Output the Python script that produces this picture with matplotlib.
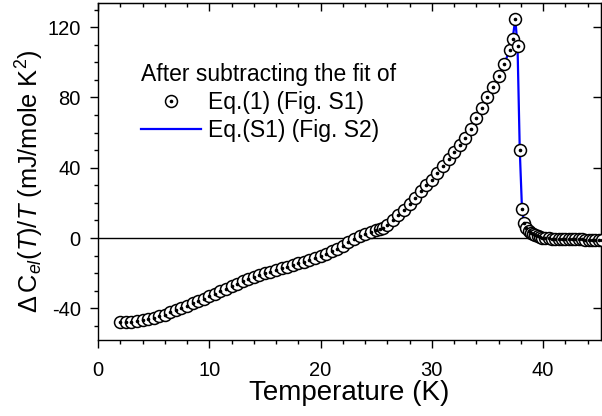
import matplotlib
matplotlib.use('Agg')
import matplotlib.pyplot as plt

plt.rcParams['font.family'] = ['Liberation Sans', 'DejaVu Sans']
plt.rcParams['mathtext.fontset'] = 'custom'
plt.rcParams['mathtext.rm'] = 'Liberation Sans'
plt.rcParams['mathtext.it'] = 'Liberation Sans:italic'
plt.rcParams['axes.unicode_minus'] = False

# Temperature (K) and Delta C_el/T (mJ/mole K^2)
temp = [2.0, 2.5, 3.0, 3.5, 4.0, 4.5, 5.0, 5.5, 6.0, 6.5, 7.0, 7.5, 8.0, 8.5,
        9.0, 9.5, 10.0, 10.5, 11.0, 11.5, 12.0, 12.5, 13.0, 13.5, 14.0, 14.5,
        15.0, 15.5, 16.0, 16.5, 17.0, 17.5, 18.0, 18.5, 19.0, 19.5, 20.0, 20.5,
        21.0, 21.5, 22.0, 22.5, 23.0, 23.5, 24.0, 24.5, 25.0, 25.3, 25.6, 26.0,
        26.5, 27.0, 27.5, 28.0, 28.5, 29.0, 29.5, 30.0, 30.5, 31.0, 31.5, 32.0,
        32.5, 33.0, 33.5, 34.0, 34.5, 35.0, 35.5, 36.0, 36.5, 37.0, 37.25, 37.5,
        37.7, 37.9, 38.1, 38.3, 38.5, 38.7, 38.9, 39.1, 39.3, 39.5, 39.7, 39.9,
        40.2, 40.5, 40.8, 41.1, 41.4, 41.7, 42.0, 42.3, 42.6, 42.9, 43.2, 43.5,
        43.8, 44.1, 44.4, 44.7, 45.0, 45.3]
dcel = [-48.0, -48.0, -47.5, -47.0, -46.5, -46.0, -45.3, -44.4, -43.5, -42.3,
        -41.0, -39.8, -38.5, -37.2, -35.8, -34.4, -33.0, -31.6, -30.2, -28.8,
        -27.3, -25.9, -24.6, -23.4, -22.2, -21.1, -20.1, -19.2, -18.2, -17.3,
        -16.3, -15.3, -14.3, -13.4, -12.5, -11.3, -10.0, -8.8, -7.5, -6.2,
        -4.5, -2.5, -0.6, 1.0, 2.4, 3.5, 4.5, 5.0, 5.6, 7.5, 10.0, 13.0, 16.0,
        19.5, 23.0, 26.5, 30.0, 33.0, 37.0, 41.0, 45.0, 49.0, 53.0, 57.0, 62.0,
        68.0, 74.0, 80.0, 86.0, 92.0, 99.0, 107.0, 113.0, 124.5, 109.0, 50.0,
        16.5, 8.5, 5.5, 4.0, 3.0, 2.3, 1.5, 1.0, 0.6, 0.3, 0.0, -0.2, -0.3,
        -0.4, -0.5, -0.5, -0.6, -0.6, -0.7, -0.7, -0.8, -0.8, -0.9, -0.9, -1.0,
        -1.0, -1.0, -1.0]

fig = plt.figure(figsize=(6.02, 4.16), dpi=100)
ax = fig.add_axes([98/602, 1 - 340/416, 503/602, 337/416])

ax.axhline(0, color='black', lw=1.0, zorder=1)
fit_line, = ax.plot(temp, dcel, color='#0000ff', lw=1.6, zorder=2)
circ, = ax.plot(temp, dcel, 'o', ms=8.6, mfc='white', mec='black', mew=1.1,
                ls='none', zorder=3)
dot, = ax.plot(temp, dcel, 'o', ms=1.6, mfc='black', mec='black', ls='none',
               zorder=4)

ax.set_xlim(0, 45.2)
ax.set_ylim(-58, 133.7)
ax.set_xticks([0, 10, 20, 30, 40])
ax.set_xticks(range(2, 46, 2), minor=True)
ax.set_yticks([-40, 0, 40, 80, 120])
ax.set_yticks(range(-50, 131, 10), minor=True)
ax.tick_params(which='both', direction='out', labelsize=14.5, width=1.0)
ax.tick_params(which='major', length=6)
ax.tick_params(which='minor', length=3)
ax.tick_params(axis='x', which='major', pad=9)
ax.tick_params(axis='y', which='major', pad=6.5)
for s in ax.spines.values():
    s.set_linewidth(1.0)

top = ax.secondary_xaxis('top')
top.set_xticks([0, 10, 20, 30, 40])
top.set_xticks(range(2, 46, 2), minor=True)
top.tick_params(which='both', direction='in', labeltop=False, width=1.0)
top.tick_params(which='major', length=6)
top.tick_params(which='minor', length=3)
right = ax.secondary_yaxis('right')
right.set_yticks([-40, 0, 40, 80, 120])
right.tick_params(direction='in', labelright=False, length=6, width=1.0)

ax.set_xlabel('Temperature (K)', fontsize=20, labelpad=0)
ax.set_ylabel(r'$\Delta\,\mathrm{C}_{el}(T)/T$ (mJ/mole K$^2$)', fontsize=18.3)
ax.yaxis.set_label_coords(-0.103, 0.47)

leg = ax.legend([(circ, dot), fit_line], ['Eq.(1) (Fig. S1)', 'Eq.(S1) (Fig. S2)'],
                title='After subtracting the fit of', title_fontsize=16.5,
                fontsize=16.5, frameon=False, loc='upper left',
                bbox_to_anchor=(130/602, 1 - 52/416), bbox_transform=fig.transFigure,
                borderpad=0, handlelength=2.6, handletextpad=0.3,
                labelspacing=0.2, alignment='left')

plt.savefig('out.png', dpi=100)
